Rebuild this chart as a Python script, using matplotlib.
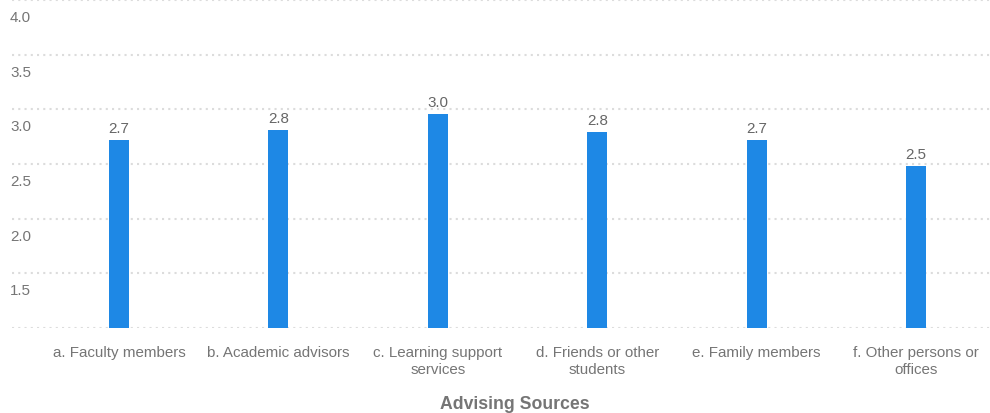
import matplotlib
matplotlib.use("Agg")
import matplotlib.pyplot as plt
from matplotlib import transforms

plt.rcParams['font.family'] = ['Liberation Sans', 'DejaVu Sans']

categories = ["a. Faculty members", "b. Academic advisors", "c. Learning support\nservices",
              "d. Friends or other\nstudents", "e. Family members", "f. Other persons or\noffices"]
values = [2.72, 2.81, 2.96, 2.79, 2.72, 2.48]
yticks = [1.0, 1.5, 2.0, 2.5, 3.0, 3.5, 4.0]
ytick_labels = ["", "1.5", "2.0", "2.5", "3.0", "3.5", "4.0"]
x_title = "Advising Sources"

W, H = 990, 414
fig = plt.figure(figsize=(W / 100, H / 100), dpi=100)
ax = fig.add_axes([12 / W, (H - 329) / H, (990 - 12) / W, (329 - 1) / H])

x = list(range(len(categories)))
ax.bar(x, values, width=0.126, color="#1E88E5", zorder=3)
ax.set_xlim(-0.671, 5.464)
ax.set_ylim(1.0, 4.0)

for s in ax.spines.values():
    s.set_visible(False)

ax.set_yticks(yticks)
ax.set_yticklabels([])
ax.grid(axis="y", color="#dcdcdc", linestyle=(0, (1, 2)), linewidth=1.5, zorder=0)
ax.tick_params(axis="both", length=0)

ax.set_xticks(x)
ax.set_xticklabels(categories, fontsize=10.9, color="#757575", linespacing=1.2)
ax.tick_params(axis="x", pad=12.5)

# y tick labels inside, below gridline
trans = transforms.blended_transform_factory(fig.transFigure, ax.transData)
offset = transforms.ScaledTranslation(0, -10 / 100, fig.dpi_scale_trans)
for v, lab in zip(yticks, ytick_labels):
    if lab:
        ax.text(10 / W, v, lab, transform=trans + offset, ha="left", va="top",
                fontsize=10.9, color="#757575")

# value labels
for xi, v in zip(x, values):
    ax.annotate(f"{v:.1f}", (xi, v), xytext=(0, 3.5), textcoords="offset points",
                ha="center", va="bottom", fontsize=10.9, color="#666666")

fig.text(515 / W, 1 - 405 / H, x_title, ha="center", va="center",
         fontsize=12.7, fontweight="bold", color="#757575")

fig.savefig("out.png", dpi=100)
